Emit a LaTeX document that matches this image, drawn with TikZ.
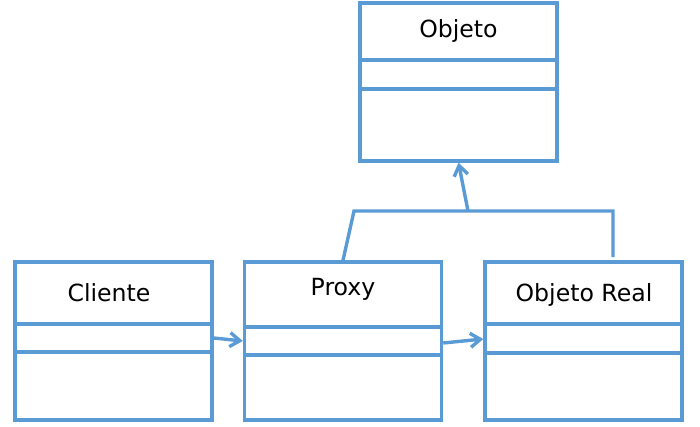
\documentclass[tikz,border=0pt]{standalone}
\usepackage{fontspec}
\setmainfont{DejaVu Sans}
\usetikzlibrary{calc,arrows.meta}
\definecolor{azul}{RGB}{91,155,213}

\begin{document}
\begin{tikzpicture}[x=0.5pt, y=-0.5pt,
    clase/.style={draw=azul, line width=1.7pt, minimum width=98.5pt,
    minimum height=79pt, inner sep=0pt},
    titulo/.style={anchor=base, inner sep=0pt, font=\fontsize{11.8pt}{14pt}\selectfont},
    divisor/.style={draw=azul, line width=1.7pt},
    conector/.style={draw=azul, line width=1.7pt},
    >={Straight Barb[length=5pt,width=7pt]}]
    \useasboundingbox (0,0) rectangle (700,427);
    % clases
    \node[clase] (objeto) at (458.5,82) {};
    \node[clase] (cliente) at (113.5,341) {};
    \node[clase] (proxy) at (343,341) {};
    \node[clase] (real) at (583.5,341) {};
    \node[titulo] (tobjeto) at (458.5,38) {Objeto};
    \node[titulo] (tcliente) at (109,301) {Cliente};
    \node[titulo] (tproxy) at (343,295) {Proxy};
    \node[titulo] (treal) at (584,301) {Objeto Real};
    \foreach \n/\a/\b in {objeto/60/89, cliente/324/352, proxy/327/355, real/324/353} {
        \draw[divisor] (\n.west |- 0,\a) -- (\n.east |- 0,\a);
        \draw[divisor] (\n.west |- 0,\b) -- (\n.east |- 0,\b);
    }
    % asociaciones
    \draw[conector,->] ([yshift=1.5pt]cliente.east) -- (proxy.west);
    \draw[conector,->] ([yshift=-1pt]proxy.east) -- ([yshift=1pt]real.west);
    % herencia
    \coordinate (izq) at (354,211);
    \coordinate (der) at (613,211);
    \coordinate (pie) at (613,257);
    \coordinate (medio) at (468,211);
    \draw[conector] (proxy.north) -- (izq) -- (der) -- (pie);
    \draw[conector,->] (medio) -- (objeto.south);
\end{tikzpicture}
\end{document}
